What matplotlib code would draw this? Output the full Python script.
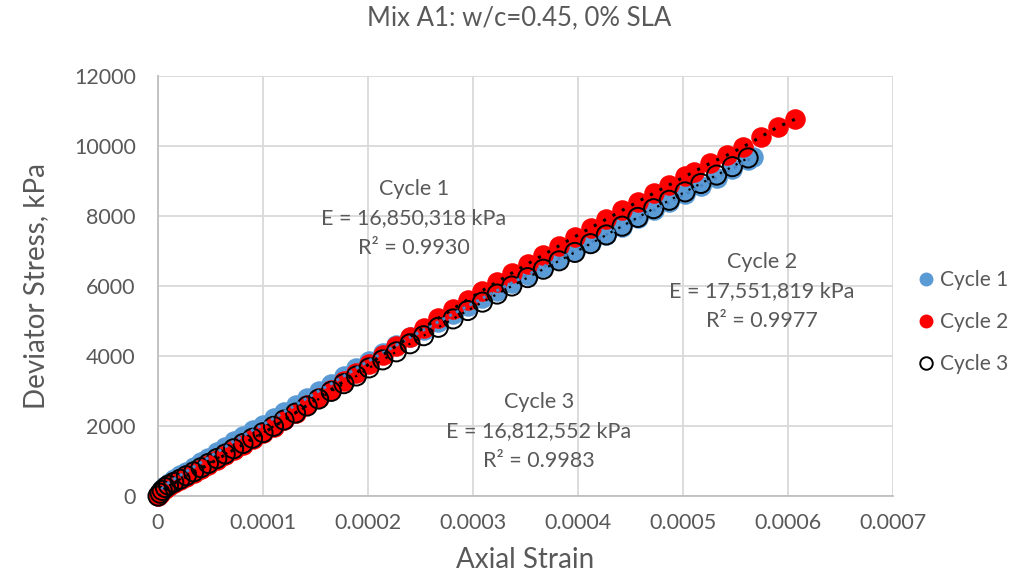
import numpy as np
import matplotlib
matplotlib.use("Agg")
import matplotlib.pyplot as plt
from matplotlib.lines import Line2D

plt.rcParams['font.family'] = ['Lato', 'DejaVu Sans']

# --- data (strain in microstrain, stress in kPa) ---
c1_strain = [0, 2, 4, 7, 10, 15, 21, 27, 34, 41, 48, 56, 64, 72, 81, 90, 100, 110, 120, 131,
             142, 153, 165, 177, 189, 201, 214, 227, 240, 253, 267, 281, 295, 309, 323, 337,
             352, 367, 382, 397, 412, 427, 442, 457, 472, 487, 502, 517, 532, 547, 562, 567]
c1_stress = [0, 110, 210, 300, 380, 480, 590, 700, 830, 960, 1100, 1250, 1400, 1560, 1720, 1880,
             2040, 2220, 2400, 2600, 2800, 3000, 3210, 3430, 3650, 3870, 4090, 4310, 4530, 4750,
             4980, 5200, 5430, 5650, 5870, 6090, 6320, 6550, 6780, 7010, 7240, 7470, 7700, 7930,
             8160, 8390, 8620, 8860, 9100, 9350, 9600, 9700]

c2_strain = [0, 2, 4, 7, 10, 15, 21, 27, 34, 41, 48, 56, 64, 72, 81, 90, 100, 110, 120, 131,
             142, 153, 165, 177, 189, 201, 214, 227, 240, 253, 267, 281, 295, 309, 323, 337,
             352, 367, 382, 397, 412, 427, 442, 457, 472, 487, 502, 510, 526, 542, 557, 574,
             590, 607]
c2_stress = [0, 60, 140, 210, 280, 360, 450, 550, 660, 780, 900, 1040, 1180, 1320, 1470, 1630,
             1790, 1980, 2170, 2380, 2590, 2810, 3040, 3280, 3520, 3770, 4030, 4290, 4550, 4810,
             5080, 5350, 5610, 5870, 6120, 6370, 6630, 6890, 7150, 7410, 7660, 7910, 8160, 8410,
             8650, 8890, 9130, 9260, 9510, 9740, 9970, 10260, 10540, 10770]

c3_strain = [0, 2, 4, 7, 10, 15, 21, 27, 34, 41, 48, 56, 64, 72, 81, 90, 100, 110, 120, 131,
             142, 153, 165, 177, 189, 201, 214, 227, 240, 253, 267, 281, 295, 309, 323, 337,
             352, 367, 382, 397, 412, 427, 442, 457, 472, 487, 502, 517, 532, 547, 562]
c3_stress = [0, 80, 160, 240, 310, 390, 480, 580, 690, 810, 930, 1070, 1200, 1350, 1500, 1650,
             1810, 1990, 2170, 2370, 2570, 2770, 2990, 3210, 3430, 3660, 3890, 4120, 4350, 4580,
             4820, 5060, 5300, 5540, 5770, 6000, 6240, 6480, 6720, 6960, 7210, 7460, 7710, 7960,
             8210, 8450, 8690, 8930, 9170, 9410, 9660]

labels = ["Cycle 1", "Cycle 2", "Cycle 3"]
fit_text = [
    ["Cycle 1", "E = 16,850,318 kPa", "R² = 0.9930"],
    ["Cycle 2", "E = 17,551,819 kPa", "R² = 0.9977"],
    ["Cycle 3", "E = 16,812,552 kPa", "R² = 0.9983"],
]
x_ticks = [0, 0.0001, 0.0002, 0.0003, 0.0004, 0.0005, 0.0006, 0.0007]
x_ticklabels = ["0", "0.0001", "0.0002", "0.0003", "0.0004", "0.0005", "0.0006", "0.0007"]
y_ticks = [0, 2000, 4000, 6000, 8000, 10000, 12000]

grey = "#595959"
blue = "#5B9BD5"
red = "#FF0000"

fig = plt.figure(figsize=(10.3, 5.83), dpi=100)
ax = fig.add_axes([0.1534, 0.1492, 0.7136, 0.7204])

x1 = np.array(c1_strain) * 1e-6
x2 = np.array(c2_strain) * 1e-6
x3 = np.array(c3_strain) * 1e-6

ms = 190
ax.scatter(x1, c1_stress, s=ms, color=blue, zorder=3, clip_on=False)
ax.scatter(x2, c2_stress, s=ms, color=red, zorder=4, clip_on=False)
ax.scatter(x3, c3_stress, s=ms, facecolor="none", edgecolor="black", linewidth=1.4,
           zorder=5, clip_on=False)

# trendlines (dotted)
ax.plot(x1, c1_stress, linestyle=(0, (1, 1.5)), color="#4A86C5", lw=2.2, zorder=6)
ax.plot(x2, c2_stress, linestyle=(0, (1, 2.5)), color="black", lw=2.2, zorder=6)
ax.plot(x3, c3_stress, linestyle=(0, (1, 3)), color="black", lw=1.6, zorder=6)

ax.set_xlim(0, 0.0007)
ax.set_ylim(0, 12000)
ax.set_xticks(x_ticks)
ax.set_xticklabels(x_ticklabels)
ax.set_yticks(y_ticks)
ax.tick_params(length=0, labelsize=15.5, colors=grey)
ax.tick_params(axis="y", pad=16)
ax.tick_params(axis="x", pad=12)
ax.grid(True, color="#D9D9D9", lw=1.3)
ax.set_axisbelow(True)
for side in ["top", "right"]:
    ax.spines[side].set_visible(False)
for side in ["left", "bottom"]:
    ax.spines[side].set_color("#BFBFBF")
    ax.spines[side].set_linewidth(1.3)
    ax.spines[side].set_zorder(2)

ax.set_xlabel("Axial Strain", fontsize=20, color=grey, labelpad=10)
ax.set_ylabel("Deviator Stress, kPa", fontsize=20, color=grey, labelpad=18)
fig.text(0.504, 1 - 18 / 583, "Mix A1: w/c=0.45, 0% SLA", fontsize=18.5, color=grey,
         ha="center", va="center")

# trendline equation boxes (pixel centres of first line)
text_pos = [(414, 189), (762, 262), (539, 402)]
for (px, py), lines in zip(text_pos, fit_text):
    for i, line in enumerate(lines):
        fig.text(px / 1030, 1 - (py + 29.5 * i) / 583, line, fontsize=15.5, color=grey,
                 ha="center", va="center")

handles = [
    Line2D([], [], marker="o", linestyle="none", markersize=9, color=blue),
    Line2D([], [], marker="o", linestyle="none", markersize=9, color=red),
    Line2D([], [], marker="o", linestyle="none", markersize=9, markerfacecolor="none",
           markeredgecolor="black", markeredgewidth=1.4),
]
fig.legend(handles, labels, loc="center left", bbox_to_anchor=(905 / 1030, 1 - 322 / 583),
           frameon=False, fontsize=15, labelcolor=grey, handletextpad=0.1,
           handlelength=1.2, labelspacing=1.05, borderaxespad=0)

fig.savefig("out.png", dpi=100)
